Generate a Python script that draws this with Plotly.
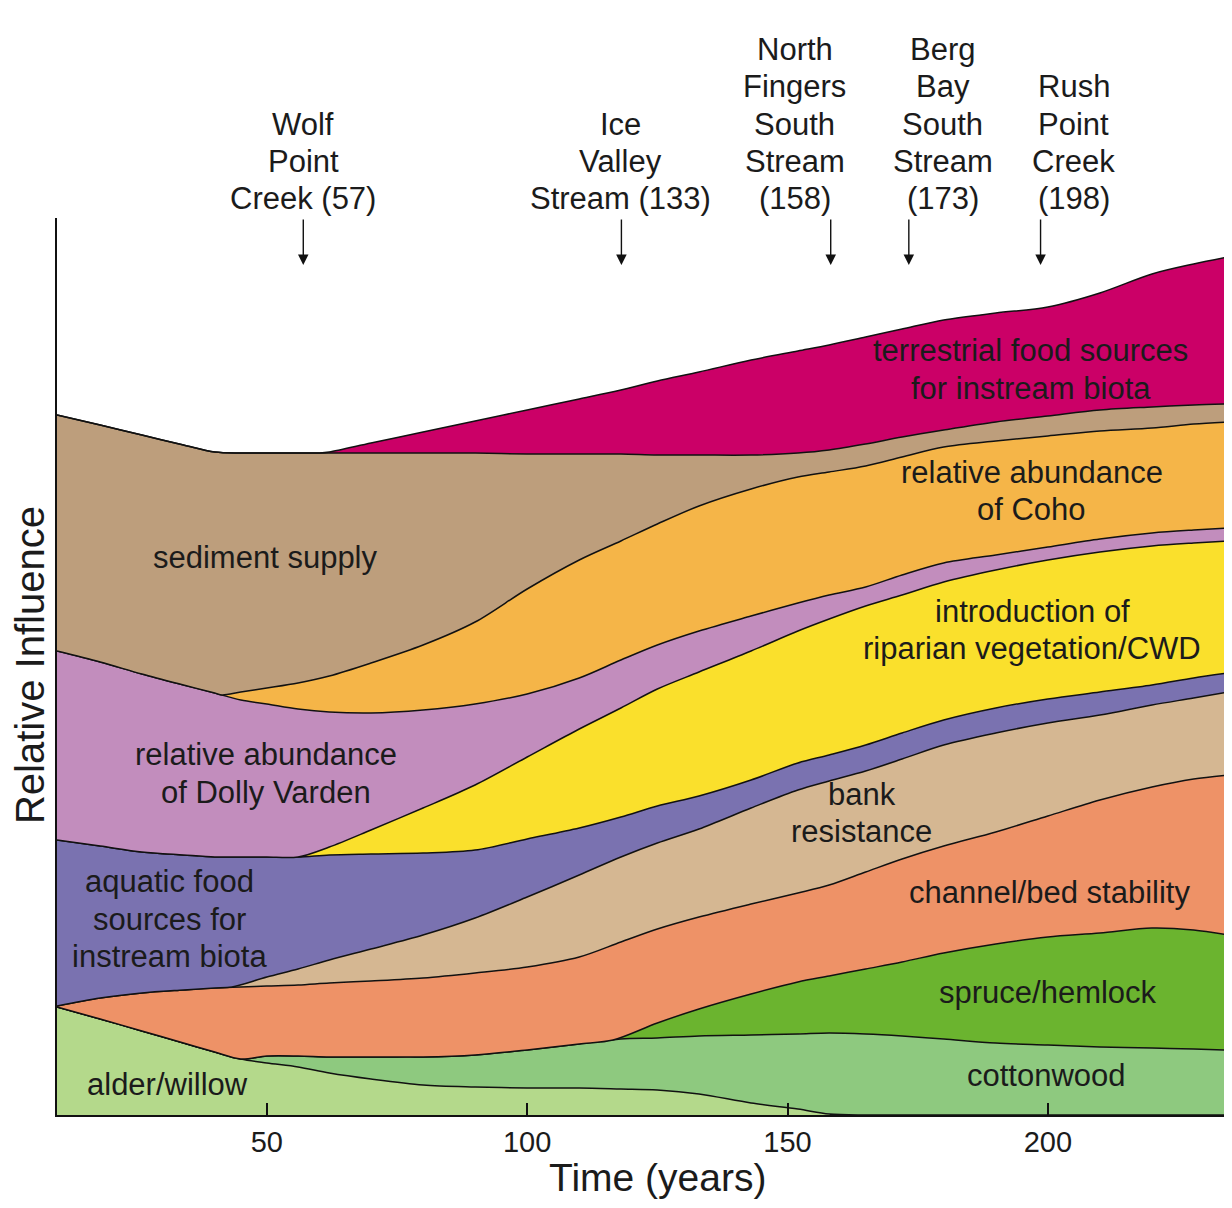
import plotly.graph_objects as go

# ---------------- data (relative influence, cumulative boundary heights) -------------
years = [9.7, 18, 26, 34, 40, 45, 50, 56, 62, 70, 80, 90, 100, 110, 118, 125, 133,
         143, 152, 158, 165, 172, 180, 190, 200, 210, 220, 228, 234.6]

alder_top = [108, 96, 84, 72, 63, 56, 52, 48, 42, 36, 30, 28, 27, 27, 26, 25, 21,
             12, 6, 1, 0, 0, 0, 0, 0, 0, 0, 0, 0]
channel_top = [109, 117, 122, 125, 127, 128, 129, 130, 132, 134, 137, 142, 148, 158, 173, 186, 198,
               211, 222, 230, 243, 256, 269, 283, 299, 315, 328, 336, 340]
aquatic_top = [275, 269, 263, 260, 258, 258, 258, 258, 260, 261, 262, 265, 276, 287, 298, 309, 319,
               335, 352, 360, 370, 382, 395, 407, 416, 423, 430, 437, 442]
dolly_top = [464, 453, 441, 430, 422, 415, 411, 406, 403, 402, 405, 411, 421, 437, 455, 470, 484,
             499, 512, 520, 528, 540, 552, 560, 568, 576, 582, 585, 587]
sediment_top = [700, 690, 680, 670, 663, 662, 662, 662, 662, 662, 662, 662, 661, 661, 661, 660, 660,
                660, 662, 665, 671, 678, 685, 693, 699, 705, 708, 710, 711]

cotton_years = [45, 50, 56, 62, 70, 80, 90, 100, 110, 118, 125, 133, 143, 152, 158, 165, 172,
                180, 190, 200, 210, 220, 228, 234.6]
cotton_top = [56, 59, 59, 58, 58, 58, 60, 65, 71, 76, 77, 79, 80, 81, 82, 81, 79,
              76, 72, 70, 68, 67, 66, 65]

spruce_years = [116.5, 125, 133, 143, 152, 158, 165, 172, 180, 190, 200, 210, 220, 228, 234.6]
spruce_top = [75, 92, 106, 121, 133, 139, 146, 153, 162, 171, 178, 182, 187, 185, 180]

bank_years = [43.3, 50, 56, 62, 70, 80, 90, 100, 110, 118, 125, 133, 143, 152, 158, 165, 172,
              180, 190, 200, 210, 220, 228, 234.6]
bank_top = [128, 138, 146, 155, 166, 180, 197, 218, 240, 258, 272, 286, 307, 325, 334, 344, 356,
            370, 382, 392, 400, 410, 417, 423]

yellow_years = [56, 62, 70, 80, 90, 100, 110, 118, 125, 133, 143, 152, 158, 165, 172,
                180, 190, 200, 210, 220, 228, 234.6]
yellow_top = [258, 268, 285, 307, 330, 358, 386, 407, 426, 443, 464, 484, 496, 509, 520,
              533, 545, 555, 563, 569, 572, 574]

coho_years = [41.4, 45, 50, 56, 62, 70, 80, 90, 100, 110, 118, 125, 133, 143, 152, 158, 165, 172,
              180, 190, 200, 210, 220, 228, 234.6]
coho_top = [420, 423, 427, 432, 439, 452, 470, 493, 526, 555, 574, 591, 609, 626, 638, 643, 649, 658,
            668, 674, 679, 684, 687, 691, 693]

terr_years = [60.2, 62, 70, 80, 90, 100, 110, 118, 125, 133, 143, 152, 158, 165, 172,
              180, 190, 200, 210, 220, 228, 234.6]
terr_top = [662, 663, 672, 683, 694, 705, 716, 725, 734, 743, 755, 764, 770, 778, 786,
            795, 802, 808, 822, 841, 851, 858]

site_names = ["Wolf<br>Point<br>Creek (57)", "Ice<br>Valley<br>Stream (133)",
              "North<br>Fingers<br>South<br>Stream<br>(158)",
              "Berg<br>Bay<br>South<br>Stream<br>(173)", "Rush<br>Point<br>Creek<br>(198)"]
site_label_years = [57, 118, 151.4, 179.8, 205]
site_arrow_years = [57, 118.1, 158.3, 173.3, 198.6]

tick_vals = [50, 100, 150, 200]

Y_MAX = 897

# ---------------- build ----------------
def extend(base_x, base_y, x, y):
    px = [bx for bx in base_x if bx < x[0]]
    py = [by for bx, by in zip(base_x, base_y) if bx < x[0]]
    return px + list(x), py + list(y)

alder = (years, alder_top)
cotton = extend(years, alder_top, cotton_years, cotton_top)
spruce = extend(cotton[0], cotton[1], spruce_years, spruce_top)
channel = (years, channel_top)
bank = extend(years, channel_top, bank_years, bank_top)
aquatic = (years, aquatic_top)
yellow = extend(years, aquatic_top, yellow_years, yellow_top)
dolly = (years, dolly_top)
coho = extend(years, dolly_top, coho_years, coho_top)
sediment = (years, sediment_top)
terr = extend(years, sediment_top, terr_years, terr_top)

layers = [
    (alder, "#b4d98b"),
    (cotton, "#8ec97f"),
    (spruce, "#6bb42f"),
    (channel, "#ee9267"),
    (bank, "#d5b792"),
    (aquatic, "#7a72b0"),
    (yellow, "#fae02c"),
    (dolly, "#c28dbd"),
    (coho, "#f5b548"),
    (sediment, "#bd9e7c"),
    (terr, "#cb0067"),
]

fig = go.Figure()
fig.add_trace(go.Scatter(x=[years[0], years[-1]], y=[0, 0], mode="lines",
                         line=dict(width=0), hoverinfo="skip", showlegend=False))
for (xs, ys), col in layers:
    fig.add_trace(go.Scatter(
        x=xs, y=ys, mode="lines",
        line=dict(color="#111111", width=1.5, shape="spline", smoothing=0.9),
        fill="tonexty", fillcolor=col, hoverinfo="skip", showlegend=False))

FONT = "Liberation Sans, Arial, Helvetica, sans-serif"
LINE_H = 37.5
TXT = "#1b1b1b"


def add_label(text, x, yc, size=31):
    lines = text.split("<br>")
    n = len(lines)
    for i, ln in enumerate(lines):
        yv = yc + ((n - 1) / 2 - i) * LINE_H
        fig.add_annotation(x=x, y=yv / Y_MAX, xref="x", yref="paper",
                           text=ln, showarrow=False, xanchor="center", yanchor="middle",
                           font=dict(family=FONT, size=size, color=TXT))


# in-chart labels
add_label("sediment supply", 49.8, 558)
add_label("terrestrial food sources<br>for instream biota", 196.7, 745.5)
add_label("relative abundance<br>of Coho", 196.9, 624)
add_label("introduction of<br>riparian vegetation/CWD", 197.0, 485)
add_label("relative abundance<br>of Dolly Varden", 49.8, 341.5)
add_label("bank<br>resistance", 164.3, 302)
add_label("channel/bed stability", 200.4, 223)
add_label("aquatic food<br>sources for<br>instream biota", 31.4, 196)
add_label("spruce/hemlock", 200.0, 123)
add_label("cottonwood", 199.8, 40)
add_label("alder/willow", 30.9, 31)

# site labels above the plot (bottom line centred 916 units up)
for name, lx, ax_ in zip(site_names, site_label_years, site_arrow_years):
    n = len(name.split("<br>"))
    add_label(name, lx, 916 + (n - 1) / 2 * LINE_H)
    fig.add_annotation(x=ax_, y=850, ax=ax_, ay=897, xref="x", yref="y", axref="x", ayref="y",
                       text="", showarrow=True, arrowhead=2, arrowsize=1.5, arrowwidth=1.4,
                       arrowcolor="#111111")

# axis titles
fig.add_annotation(x=125.1, y=-62 / Y_MAX, xref="x", yref="paper", text="Time (years)",
                   showarrow=False, xanchor="center", yanchor="middle",
                   font=dict(family=FONT, size=39, color=TXT))
fig.add_annotation(x=-0.023, y=450 / Y_MAX, xref="paper", yref="paper", text="Relative Influence",
                   showarrow=False, textangle=-90, xanchor="center", yanchor="middle",
                   font=dict(family=FONT, size=40, color=TXT))

fig.update_layout(
    width=1224, height=1192,
    margin=dict(l=49, r=4, t=210, b=85),
    paper_bgcolor="white", plot_bgcolor="white",
    xaxis=dict(range=[9.7, 234.6], tickvals=tick_vals, ticks="inside", ticklen=12,
               tickwidth=1.5, tickcolor="#111111", showline=True, linewidth=2.2,
               linecolor="#111111", showgrid=False, zeroline=False,
               tickfont=dict(family=FONT, size=29, color=TXT)),
    yaxis=dict(range=[0, Y_MAX], showticklabels=False, ticks="", showline=True,
               linewidth=2.2, linecolor="#111111", showgrid=False, zeroline=False),
)

fig.write_html("out.html")
